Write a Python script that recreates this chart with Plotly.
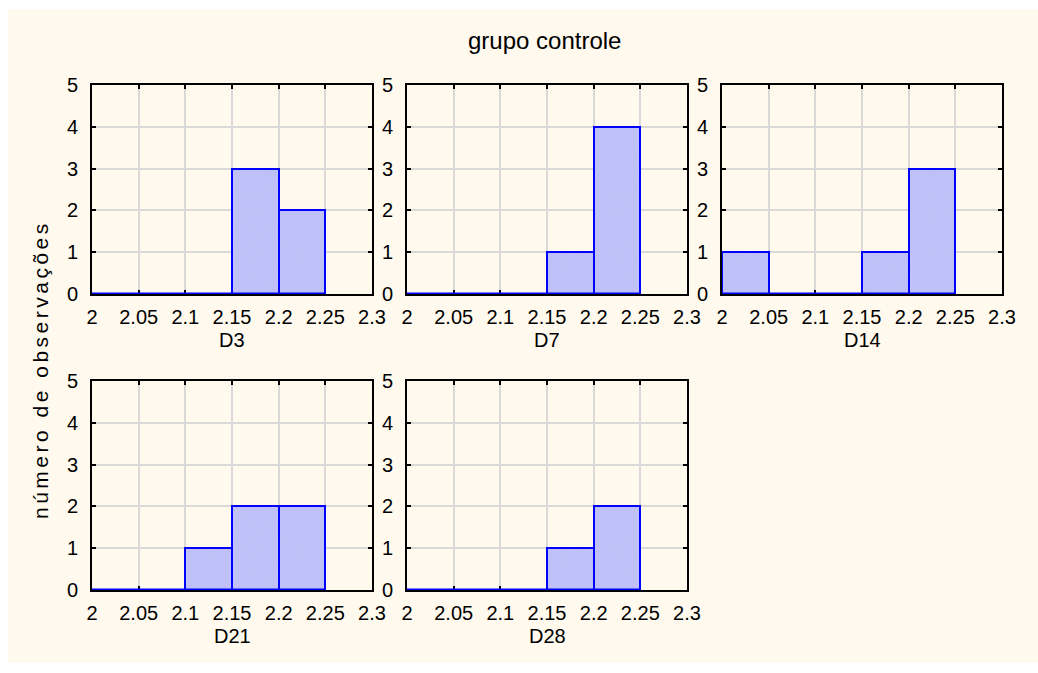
import plotly.graph_objects as go

# Histogram bins (lower edges) and counts per day
bin_edges = [2.0, 2.05, 2.1, 2.15, 2.2, 2.25]
days = ["D3", "D7", "D14", "D21", "D28"]
counts_d3 = [0, 0, 0, 3, 2]
counts_d7 = [0, 0, 0, 1, 4]
counts_d14 = [1, 0, 0, 1, 3]
counts_d21 = [0, 0, 1, 2, 2]
counts_d28 = [0, 0, 0, 1, 2]
all_counts = [counts_d3, counts_d7, counts_d14, counts_d21, counts_d28]

x_ticks = [2, 2.05, 2.1, 2.15, 2.2, 2.25, 2.3]
x_tick_text = ["2", "2.05", "2.1", "2.15", "2.2", "2.25", "2.3"]
y_ticks = [0, 1, 2, 3, 4, 5]

title = "grupo controle"
y_title = "número de observações"

W, H = 1038, 673
FONT = "Liberation Sans, Arial, sans-serif"
CREAM = "#FFF9EE"
BAR_FILL = "#C0C2F8"
BAR_EDGE = "#0000FF"
GRID = "#D9D9D9"

# panel boxes in pixels: (left, right, top, bottom)
cols = [(92, 372), (407, 687), (722, 1002)]
rows = [(85, 294), (381, 590)]
panels = [(cols[0], rows[0]), (cols[1], rows[0]), (cols[2], rows[0]),
          (cols[0], rows[1]), (cols[1], rows[1])]

centers = [e + 0.025 for e in bin_edges[:-1]]
widths = [bin_edges[i + 1] - bin_edges[i] for i in range(len(bin_edges) - 1)]

fig = go.Figure()
layout = dict(
    width=W, height=H,
    margin=dict(l=0, r=0, t=0, b=0, pad=0, autoexpand=False),
    paper_bgcolor="white",
    plot_bgcolor="white",
    showlegend=False,
    font=dict(family=FONT, size=20, color="black"),
    bargap=0,
)

annotations = []
for i, (name, counts) in enumerate(zip(days, all_counts)):
    (x0, x1), (y0, y1) = panels[i]
    n = "" if i == 0 else str(i + 1)
    xa, ya = "x" + n, "y" + n
    fig.add_trace(go.Bar(
        x=centers, y=counts, width=widths,
        xaxis=xa, yaxis=ya,
        marker=dict(color=BAR_FILL,
                    line=dict(color=BAR_EDGE, width=2),
                    pattern=dict(shape="x", size=3, solidity=0.25,
                                 fgcolor="#AAACEE", bgcolor=BAR_FILL)),
    ))
    # baseline under the binned range
    fig.add_trace(go.Scatter(
        x=[bin_edges[0], bin_edges[-1]], y=[0, 0], mode="lines",
        line=dict(color=BAR_EDGE, width=3),
        xaxis=xa, yaxis=ya, hoverinfo="skip", cliponaxis=False,
    ))
    axis_common = dict(
        showline=True, linecolor="black", linewidth=2, mirror="ticks",
        ticks="inside", ticklen=4, tickwidth=2, tickcolor="black",
        showgrid=True, gridcolor=GRID, gridwidth=2,
        zeroline=False, layer="below traces",
        tickfont=dict(family=FONT, size=20, color="black"),
    )
    layout["xaxis" + n] = dict(
        axis_common, domain=[x0 / W, x1 / W], anchor=ya,
        range=[2, 2.3], tickvals=x_ticks, ticktext=x_tick_text,
        ticklabelstandoff=4,
    )
    layout["yaxis" + n] = dict(
        axis_common, domain=[1 - y1 / H, 1 - y0 / H], anchor=xa,
        range=[0, 5], tickvals=y_ticks, ticklabelstandoff=8,
    )
    annotations.append(dict(
        text=name, xref="paper", yref="paper",
        x=(x0 + x1) / 2 / W, y=1 - (y1 + 46) / H,
        xanchor="center", yanchor="middle", showarrow=False,
        font=dict(family=FONT, size=20, color="black"),
    ))

annotations.append(dict(
    text=title, xref="paper", yref="paper", x=544 / W, y=1 - 40 / H,
    xanchor="center", yanchor="middle", showarrow=False,
    font=dict(family=FONT, size=24, color="black"),
))
annotations.append(dict(
    text='<span style="letter-spacing:3.5px">' + y_title + "</span>",
    xref="paper", yref="paper", x=40 / W, y=1 - 370 / H,
    xanchor="center", yanchor="middle", showarrow=False, textangle=-90,
    font=dict(family=FONT, size=21, color="black"),
))
layout["annotations"] = annotations
layout["shapes"] = [dict(
    type="rect", xref="paper", yref="paper", layer="below",
    x0=8 / W, x1=1, y0=1 - 663 / H, y1=1 - 9 / H,
    fillcolor=CREAM, line=dict(width=0),
)]

fig.update_layout(**layout)
fig.write_html("out.html")
